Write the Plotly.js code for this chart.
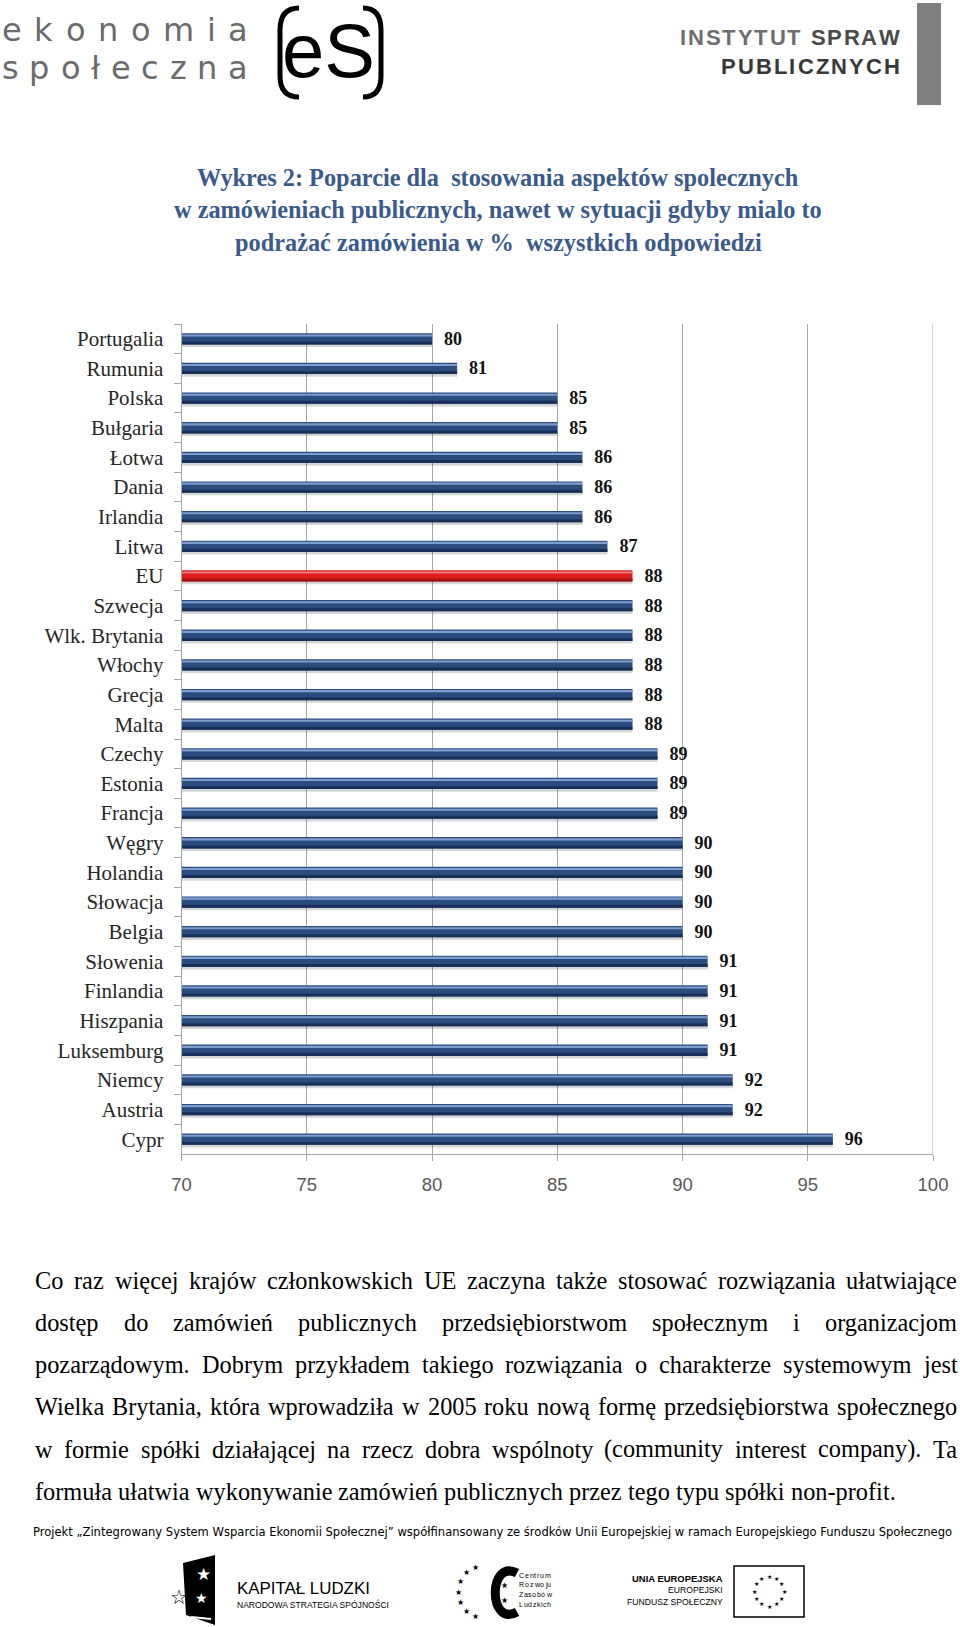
<!DOCTYPE html>
<html>
<head>
<meta charset="utf-8">
<script src="https://cdn.plot.ly/plotly-3.0.1.min.js"></script>
<style>
html,body{margin:0;padding:0;background:#ffffff;}
#chart{width:960px;height:1627px;}
</style>
</head>
<body>
<div id="chart"></div>
<script>
// ---------------- DATA ----------------
const countries = ['Portugalia','Rumunia','Polska','Bułgaria','Łotwa','Dania','Irlandia','Litwa','EU','Szwecja',
  'Wlk. Brytania','Włochy','Grecja','Malta','Czechy','Estonia','Francja','Węgry','Holandia','Słowacja',
  'Belgia','Słowenia','Finlandia','Hiszpania','Luksemburg','Niemcy','Austria','Cypr'];
const values = [80,81,85,85,86,86,86,87,88,88,88,88,88,88,89,89,89,90,90,90,90,91,91,91,91,92,92,96];
const xTickValues = [70,75,80,85,90,95,100];
const xTickLabels = ['70','75','80','85','90','95','100'];
const highlighted = 'EU';

const titleLines = [
  'Wykres 2: Poparcie dla  stosowania aspektów spolecznych',
  'w zamówieniach publicznych, nawet w sytuacji gdyby mialo to',
  'podrażać zamówienia w %  wszystkich odpowiedzi'
];
const paragraphLines = [
  'Co raz więcej krajów członkowskich UE zaczyna także stosować rozwiązania ułatwiające',
  'dostęp do zamówień publicznych przedsiębiorstwom społecznym i organizacjom',
  'pozarządowym. Dobrym przykładem takiego rozwiązania o charakterze systemowym jest',
  'Wielka Brytania, która wprowadziła w 2005 roku nową formę przedsiębiorstwa społecznego',
  'w formie spółki działającej na rzecz dobra wspólnoty (community interest company). Ta',
  'formuła ułatwia wykonywanie zamówień publicznych przez tego typu spółki non-profit.'
];
const footerText = 'Projekt \u201EZintegrowany System Wsparcia Ekonomii Społecznej\u201D współfinansowany ze środków Unii Europejskiej w ramach Europejskiego Funduszu Społecznego';

// ---------------- HELPERS ----------------
const W = 960, H = 1627;
const px = x => x / W;
const py = y => 1 - y / H;
const P = (x, y) => px(x).toFixed(5) + ',' + py(y).toFixed(5);
const SERIF = 'Liberation Serif, Times New Roman, serif';
const SANS = 'Liberation Sans, Arial, sans-serif';
const NARROW = 'Liberation Sans Narrow, Liberation Sans, Arial, sans-serif';
const DJ = 'DejaVu Sans, sans-serif';
const ctx = document.createElement('canvas').getContext('2d');
function tw(t, size, family, weight) {
  ctx.font = (weight || 'normal') + ' ' + size + 'px ' + family;
  return ctx.measureText(t).width;
}
const anns = [];
function ann(text, x, y, size, color, family, weight, xanchor) {
  anns.push({text: text, x: px(x), y: py(y), xref: 'paper', yref: 'paper',
    xanchor: xanchor || 'left', yanchor: 'middle', showarrow: false, borderpad: 0, borderwidth: 0,
    font: {family: family, size: size, color: color, weight: weight || 'normal'}});
}
function spread(tokens, x0, x1, y, size, color, family, weight, justify) {
  const ws = tokens.map(t => tw(t, size, family, weight));
  const sum = ws.reduce((a, b) => a + b, 0);
  let gap = tokens.length > 1 ? (x1 - x0 - sum) / (tokens.length - 1) : 0;
  if (justify === false) gap = tw(' ', size, family, weight);
  let x = x0;
  tokens.forEach((t, i) => {
    if (t.trim() !== '') ann(t, x, y, size, typeof color === 'function' ? color(i) : color, family, weight);
    x += ws[i] + gap;
  });
}
function fitSize(text, width, family, weight) {
  return 20 * width / tw(text, 20, family, weight);
}

// ---------------- TRACES ----------------
const isHL = countries.map(c => c === highlighted);
const pick = (a, b) => isHL.map(e => e ? a : b);
const base = {type: 'bar', orientation: 'h', x: values, y: countries, showlegend: false, hoverinfo: 'skip'};
const traces = [
  Object.assign({}, base, {name: 'shadow', width: 0.38, offset: -0.1, marker: {color: 'rgba(0,0,0,0.16)'}}),
  Object.assign({}, base, {name: 'Poparcie (%)', width: 0.38, offset: -0.19,
    marker: {color: pick('#DD1C1E', '#2B4C7E'), line: {width: 0}},
    texttemplate: '\u00a0\u00a0%{x}', textposition: 'outside', constraintext: 'none', cliponaxis: false,
    outsidetextfont: {family: SERIF, size: 18, color: '#111111', weight: 'bold'},
    hoverinfo: 'x+y'}),
  Object.assign({}, base, {name: 'highlight', width: 0.07, offset: -0.15,
    marker: {color: pick('#F27A7A', '#7E9DCB')}}),
  Object.assign({}, base, {name: 'dark', width: 0.1, offset: 0.09,
    marker: {color: pick('#A10F12', '#182F57')}})
];

// ---------------- TEXT: TITLE ----------------
const titleSize = fitSize(titleLines[1], 648, SERIF, 'bold');
const titleY = [177.5, 209.8, 242.5];
titleLines.forEach((t, i) => ann(t, 498, titleY[i], titleSize, '#3A5A8C', SERIF, 'bold', 'center'));

// ---------------- TEXT: PARAGRAPH ----------------
let paraSize = fitSize(paragraphLines[5], 861, SERIF, 'normal');
const maxNat = Math.max(...paragraphLines.map(l => tw(l, paraSize, SERIF)));
if (maxNat > 922) paraSize *= 922 / maxNat;
const paraY = [1280, 1322, 1364.5, 1406.5, 1449, 1491];
paragraphLines.forEach((l, i) => {
  spread(l.split(' '), 35, 957, paraY[i], paraSize, '#000000', SERIF, 'normal', i < paragraphLines.length - 1);
});

// ---------------- FOOTER LINE ----------------
const footFam = 'DejaVu Sans Condensed, DejaVu Sans, sans-serif';
const footSize = fitSize(footerText, 920, footFam, 'normal');
ann(footerText, 33, 1531, footSize, '#000000', footFam, 'normal');

// ---------------- LOGO: ekonomia społeczna ----------------
spread(Array.from('ekonomia'), 2, 248, 30, 32, '#6B6B6B', DJ, 'normal');
spread(Array.from('społeczna'), 2, 248, 68.5, 32, '#6B6B6B', DJ, 'normal');
ann('eS', 328, 50, 76, '#000000', NARROW, 'normal', 'center');

// ---------------- LOGO: Instytut Spraw Publicznych ----------------
spread(Array.from('INSTYTUT SPRAW'), 680, 900, 38, 22, i => i < 8 ? '#6E6E6E' : '#4A4A4A', NARROW, 'bold');
spread(Array.from('PUBLICZNYCH'), 721, 900, 66.5, 22, '#383838', NARROW, 'bold');

// ---------------- FOOTER LOGOS ----------------
// Kapitał Ludzki
ann('★', 203, 1574, 17, '#ffffff', DJ, 'normal', 'center');
ann('★', 201, 1598, 14, '#ffffff', DJ, 'normal', 'center');
ann('☆', 179, 1597, 20, '#000000', DJ, 'normal', 'center');
const kapSize = fitSize('KAPITAŁ LUDZKI', 133, SANS, 'normal');
ann('KAPITAŁ LUDZKI', 237, 1588, kapSize, '#000000', SANS, 'normal');
const narSize = fitSize('NARODOWA STRATEGIA SPÓJNOŚCI', 153, SANS, 'normal');
ann('NARODOWA STRATEGIA SPÓJNOŚCI', 237, 1604, narSize, '#000000', SANS, 'normal');

// Centrum Rozwoju Zasobów Ludzkich
const ringAngles = [105, 130, 155, 180, 205, 230, 255];
ringAngles.forEach(a => {
  const r = a * Math.PI / 180;
  ann('★', 482 + 24 * Math.cos(r), 1592 - 25 * Math.sin(r), 8, '#000000', DJ, 'normal', 'center');
});
ann('★', 504, 1585, 8, '#000000', DJ, 'normal', 'center');
ann('★', 504, 1600, 8, '#000000', DJ, 'normal', 'center');
['Centrum', 'Rozwoju', 'Zasobów', 'Ludzkich'].forEach((w, i) => {
  spread(Array.from(w), 519, 551, 1575 + i * 9.8, 7, '#000000', SANS, 'normal');
});

// Unia Europejska
const ueSize = fitSize('UNIA EUROPEJSKA', 91, SANS, 'bold');
ann('UNIA EUROPEJSKA', 723, 1578.5, ueSize, '#000000', SANS, 'bold', 'right');
const efsSize = fitSize('FUNDUSZ SPOŁECZNY', 96, SANS, 'normal');
ann('EUROPEJSKI', 723, 1590, efsSize, '#000000', SANS, 'normal', 'right');
ann('FUNDUSZ SPOŁECZNY', 723, 1601.5, efsSize, '#000000', SANS, 'normal', 'right');
for (let k = 0; k < 12; k++) {
  const r = k * Math.PI / 6;
  ann('★', 769 + 15 * Math.cos(r), 1591 - 15 * Math.sin(r), 6, '#000000', DJ, 'normal', 'center');
}

// ---------------- SHAPES ----------------
const shapes = [
  {type: 'rect', xref: 'paper', yref: 'paper', x0: px(917), x1: px(941), y0: py(105), y1: py(3),
    fillcolor: '#7F7F7F', line: {width: 0}},
  {type: 'path', xref: 'paper', yref: 'paper',
    path: 'M ' + P(299, 8) + ' Q ' + P(280, 8) + ' ' + P(280, 30) + ' L ' + P(280, 76) + ' Q ' + P(280, 97) + ' ' + P(299, 97),
    line: {color: '#000000', width: 5}},
  {type: 'path', xref: 'paper', yref: 'paper',
    path: 'M ' + P(363, 8) + ' Q ' + P(381, 8) + ' ' + P(381, 30) + ' L ' + P(381, 76) + ' Q ' + P(381, 97) + ' ' + P(363, 97),
    line: {color: '#000000', width: 5}},
  {type: 'path', xref: 'paper', yref: 'paper',
    path: 'M ' + P(183, 1563) + ' L ' + P(215, 1555) + ' L ' + P(215, 1625) + ' L ' + P(186, 1615) + ' Z',
    fillcolor: '#000000', line: {width: 0}},
  {type: 'path', xref: 'paper', yref: 'paper',
    path: 'M ' + P(191, 1617) + ' L ' + P(211, 1619),
    line: {color: '#ffffff', width: 2}},
  {type: 'path', xref: 'paper', yref: 'paper',
    path: 'M ' + P(517, 1573) + ' C ' + P(488, 1558) + ' ' + P(488, 1628) + ' ' + P(517, 1612),
    line: {color: '#000000', width: 9}},
  {type: 'rect', xref: 'paper', yref: 'paper', x0: px(734), x1: px(804), y0: py(1617), y1: py(1566),
    fillcolor: '#ffffff', line: {color: '#000000', width: 1.5}},
  {type: 'line', xref: 'x', yref: 'paper', x0: 100, x1: 100, y0: py(1154), y1: py(324),
    line: {color: '#A6A6A6', width: 1}, layer: 'below'}
];

// ---------------- LAYOUT ----------------
const layout = {
  width: W, height: H,
  margin: {l: 0, r: 0, t: 0, b: 0},
  paper_bgcolor: '#ffffff', plot_bgcolor: 'rgba(0,0,0,0)',
  barmode: 'overlay', showlegend: false,
  xaxis: {domain: [px(181.6), px(933)], range: [70, 100], tickvals: xTickValues, ticktext: xTickLabels,
    showgrid: true, gridcolor: '#A6A6A6', gridwidth: 1, zeroline: false,
    showline: true, linecolor: '#A6A6A6', linewidth: 1,
    ticks: 'outside', ticklen: 6, tickcolor: '#A6A6A6', tickwidth: 1,
    tickfont: {family: SANS, size: 18.5, color: '#595959'}, ticklabelstandoff: 8, fixedrange: true},
  yaxis: {domain: [py(1154), py(324)], type: 'category', categoryorder: 'array', categoryarray: countries,
    autorange: 'reversed', showline: true, linecolor: '#A6A6A6', linewidth: 1,
    ticks: 'outside', tickson: 'boundaries', ticklen: 7, tickcolor: '#A6A6A6', tickwidth: 1, showgrid: false,
    tickfont: {family: SERIF, size: 21, color: '#262626'}, ticklabelstandoff: 13, fixedrange: true},
  annotations: anns,
  shapes: shapes
};

Plotly.newPlot('chart', traces, layout, {staticPlot: true, displayModeBar: false});
</script>
</body>
</html>
